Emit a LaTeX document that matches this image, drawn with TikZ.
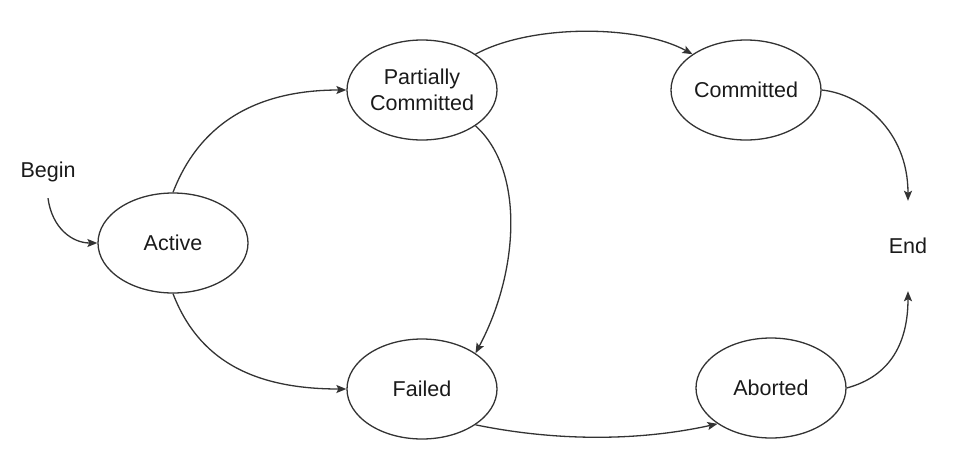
\documentclass[tikz,border=0pt]{standalone}
\usepackage{fontspec}
\setmainfont{Liberation Sans}
\usetikzlibrary{shapes.geometric,arrows.meta}
\definecolor{linec}{HTML}{333333}
\definecolor{textc}{HTML}{1A1A1A}
\begin{document}
\begin{tikzpicture}[x=1pt,y=-1pt,
  state/.style={ellipse,draw=linec,line width=1.3pt,minimum width=150pt,minimum height=100pt,inner sep=0pt,text=textc,align=center,font=\fontsize{21.5}{26}\selectfont},
  plain/.style={inner sep=0pt,text=textc,font=\fontsize{21.5}{26}\selectfont},
  conn/.style={draw=linec,line width=1.3pt,-{Stealth[length=10pt,width=8pt,inset=2pt]}}]
\useasboundingbox (0,0) rectangle (970,461);
\node[plain,minimum height=52pt] (begin) at (48,172) {Begin};
\node[state] (active) at (173,243) {Active};
\node[state] (partial) at (422,90) {Partially\\Committed};
\node[state] (committed) at (746,90) {Committed};
\node[state] (failed) at (422,389) {Failed};
\node[state] (aborted) at (771,388) {Aborted};
\node[plain,minimum height=90pt] (end) at (908,246) {End};

\draw[conn] (begin.south) .. controls +(4,30) and +(-25,0) .. (active.west);
\draw[conn] (active.north) .. controls +(25,-65) and +(-95,0) .. (partial.west);
\draw[conn] (active.south) .. controls +(25,65) and +(-95,0) .. (failed.west);
\draw[conn] (partial.north east) .. controls +(55,-30) and +(-55,-30) .. (committed.north west);
\draw[conn] (partial.south east) .. controls +(50,45) and +(43,-80) .. (failed.north east);
\draw[conn] (failed.south east) .. controls +(83,17) and +(-77,17) .. (aborted.south west);
\draw[conn] (committed.east) .. controls +(40,4) and +(0,-70) .. (end.north);
\draw[conn] (aborted.east) .. controls +(45,-12) and +(0,50) .. (end.south);
\end{tikzpicture}
\end{document}
